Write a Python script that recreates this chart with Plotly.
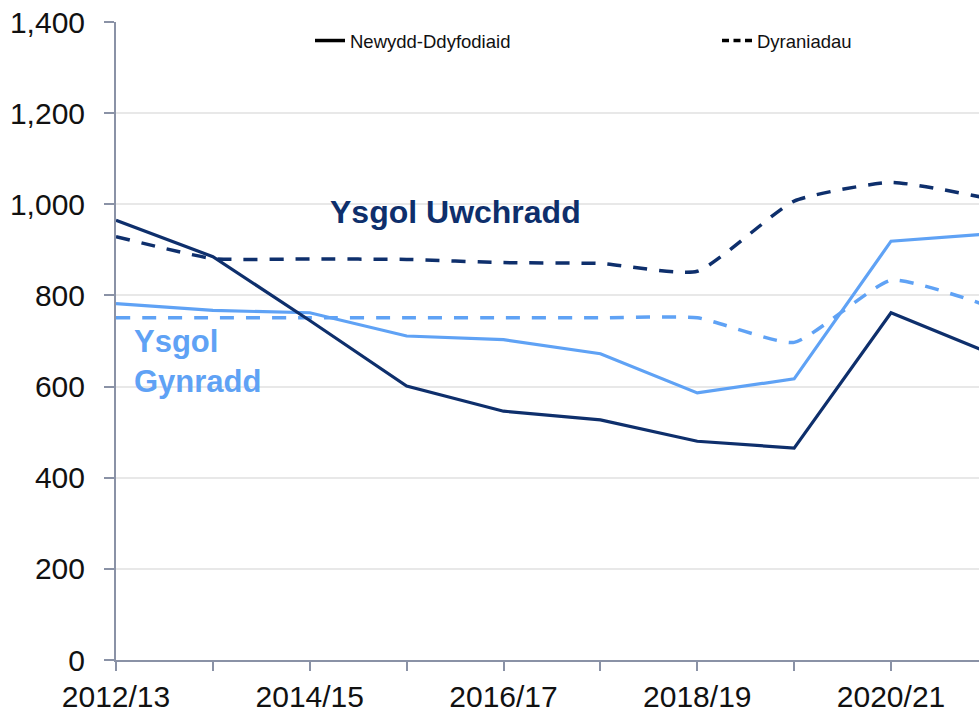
import plotly.graph_objects as go

years = ["2012/13", "2013/14", "2014/15", "2015/16", "2016/17",
         "2017/18", "2018/19", "2019/20", "2020/21", "2021/22"]
secondary_new = [965, 885, 745, 601, 546, 527, 480, 465, 762, 675]
secondary_alloc = [929, 881, 880, 879, 872, 870, 853, 1007, 1048, 1013]
primary_new = [782, 767, 762, 711, 703, 672, 586, 617, 919, 935]
primary_alloc = [751, 751, 751, 751, 751, 751, 751, 697, 833, 777]
tick_labels = [y if i % 2 == 0 else "" for i, y in enumerate(years)]
y_ticks = [0, 200, 400, 600, 800, 1000, 1200, 1400]

NAVY = "#0E2F6C"
LIGHT = "#5FA2F5"
AXIS = "#8A92A6"
FONT = "Liberation Sans, Arial, sans-serif"

fig = go.Figure()
fig.add_trace(go.Scatter(x=years, y=primary_alloc, mode="lines", showlegend=False,
                         line=dict(color=LIGHT, width=3.5, dash="14px,12px",
                                   shape="spline", smoothing=0.5)))
fig.add_trace(go.Scatter(x=years, y=primary_new, mode="lines", showlegend=False,
                         line=dict(color=LIGHT, width=3.2)))
fig.add_trace(go.Scatter(x=years, y=secondary_alloc, mode="lines", showlegend=False,
                         line=dict(color=NAVY, width=3.5, dash="14px,12px",
                                   shape="spline", smoothing=0.5)))
fig.add_trace(go.Scatter(x=years, y=secondary_new, mode="lines", showlegend=False,
                         line=dict(color=NAVY, width=3.2)))
# legend entries (black keys)
fig.add_trace(go.Scatter(x=[None], y=[None], mode="lines", name="Newydd-Ddyfodiaid",
                         legend="legend", line=dict(color="black", width=3.5)))
fig.add_trace(go.Scatter(x=[None], y=[None], mode="lines", name="Dyraniadau",
                         legend="legend2",
                         line=dict(color="black", width=3.5, dash="7px,4.5px")))

fig.add_annotation(x=3.5, y=983, xref="x", yref="y", text="<b>Ysgol Uwchradd</b>",
                   showarrow=False, font=dict(family=FONT, size=32, color=NAVY))
fig.add_annotation(x=0.17, y=654, xref="x", yref="y", text="<b>Ysgol<br>Gynradd</b>",
                   showarrow=False, xanchor="left", align="left",
                   font=dict(family=FONT, size=31, color=LIGHT))

legend_font = dict(family=FONT, size=18.5, color="#111111")
fig.update_layout(
    width=979, height=712,
    margin=dict(l=116, r=0, t=22, b=52),
    paper_bgcolor="white", plot_bgcolor="white",
    font=dict(family=FONT, size=30, color="#111111"),
    legend=dict(orientation="h", x=0.2248, xanchor="left", y=1.0, yanchor="top",
                bgcolor="rgba(0,0,0,0)", font=legend_font),
    legend2=dict(orientation="h", x=0.6964, xanchor="left", y=1.0, yanchor="top",
                 bgcolor="rgba(0,0,0,0)", font=legend_font),
    xaxis=dict(type="category", range=[0, 8.908], tickmode="array",
               tickvals=years, ticktext=tick_labels, ticks="outside", ticklen=9,
               tickwidth=2, tickcolor=AXIS, showline=True, linecolor=AXIS,
               linewidth=2, showgrid=False, tickfont=dict(size=30)),
    yaxis=dict(range=[0, 1400], tickmode="array", tickvals=y_ticks,
               ticktext=[f"{v:,}" for v in y_ticks], ticks="outside", ticklen=10,
               tickwidth=2, tickcolor=AXIS, showline=True, linecolor=AXIS,
               linewidth=2, showgrid=True, gridcolor="#E8E8E8", gridwidth=1.5,
               zeroline=False, ticklabelstandoff=13, tickfont=dict(size=30)),
)

fig.write_html("out.html", config={"displayModeBar": False},
               post_script="document.body.style.margin='0';document.body.style.overflow='hidden';")
